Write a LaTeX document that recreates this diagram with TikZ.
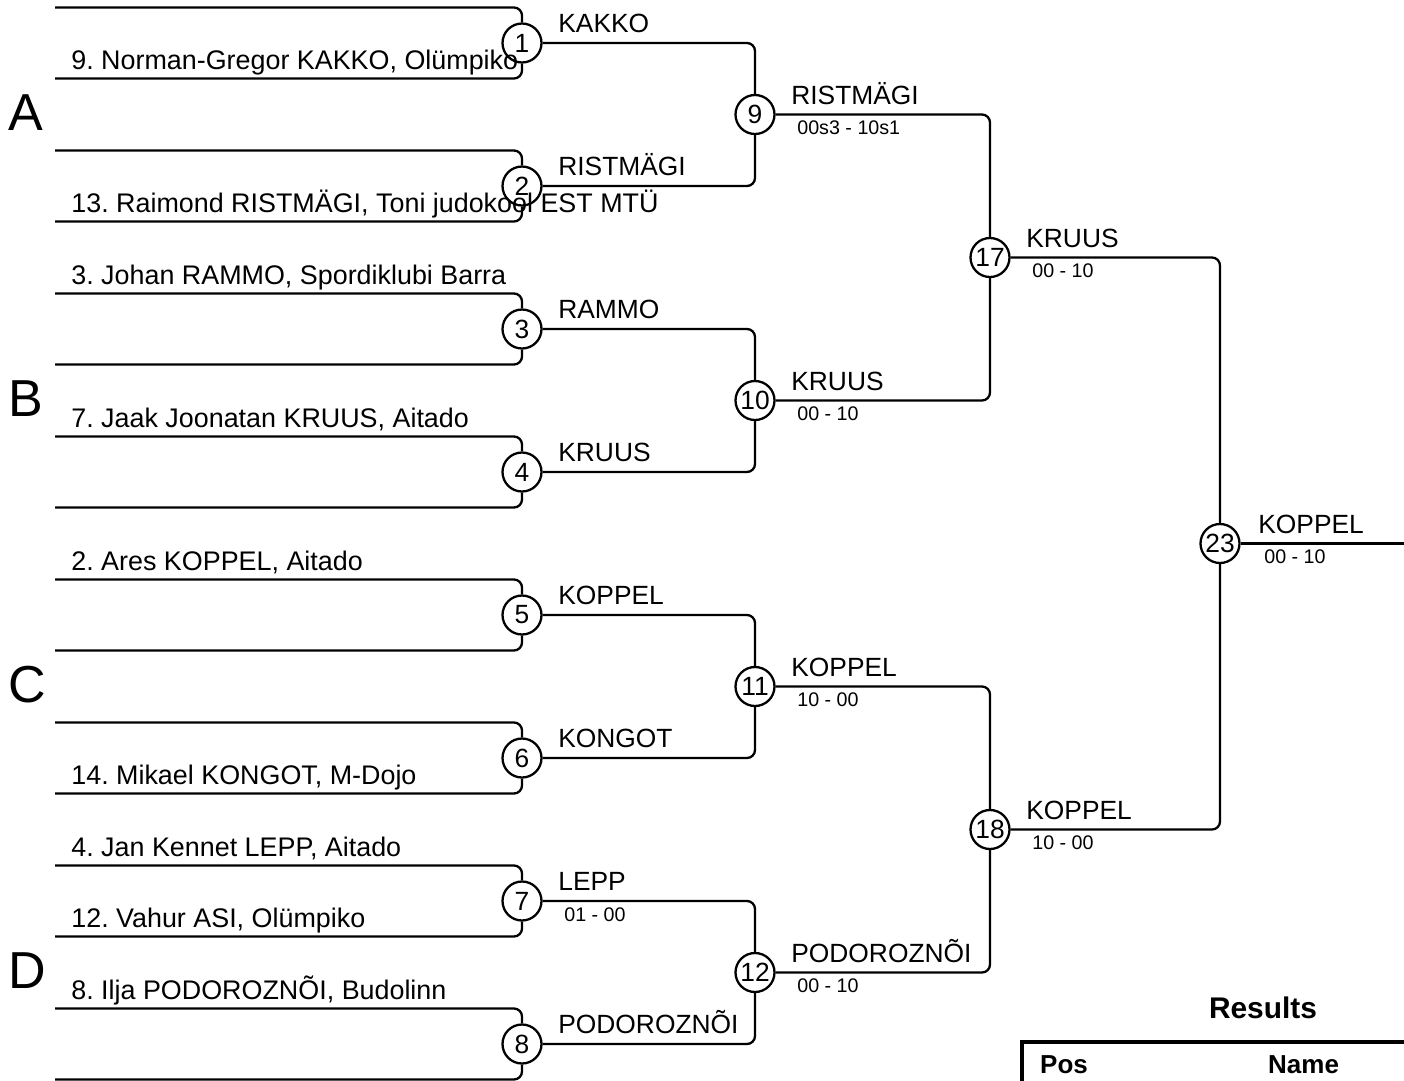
\documentclass[tikz,border=0pt]{standalone}
\usepackage{fontspec}
\setmainfont{Liberation Sans}
\frenchspacing

\tikzset{
  bout/.style={circle, draw, line width=1.3pt, minimum size=0.78cm, inner sep=0pt, font=\fontsize{15}{16}\selectfont},
  judoka/.style={anchor=base west, inner sep=0pt, font=\fontsize{15.3}{16}\selectfont},
  winner/.style={anchor=base west, inner sep=0pt, font=\fontsize{15}{16}\selectfont},
  score/.style={anchor=base west, inner sep=0pt, font=\fontsize{11.2}{12}\selectfont},
  pool/.style={anchor=west, inner sep=0pt, font=\fontsize{29.6}{32}\selectfont},
  bracket/.style={line width=1.3pt, rounded corners=0.16cm}
}

\begin{document}
\begin{tikzpicture}[y=-1cm]
\useasboundingbox (0,0) rectangle (28.08,21.62);

% bouts
\node[bout] (m1) at (10.44,0.86) {1};
\node[bout] (m2) at (10.44,3.72) {2};
\node[bout] (m3) at (10.44,6.58) {3};
\node[bout] (m4) at (10.44,9.44) {4};
\node[bout] (m5) at (10.44,12.30) {5};
\node[bout] (m6) at (10.44,15.16) {6};
\node[bout] (m7) at (10.44,18.02) {7};
\node[bout] (m8) at (10.44,20.88) {8};
\node[bout] (m9) at (15.1,2.29) {9};
\node[bout] (m10) at (15.1,8.01) {10};
\node[bout] (m11) at (15.1,13.73) {11};
\node[bout] (m12) at (15.1,19.45) {12};
\node[bout] (m17) at (19.8,5.15) {17};
\node[bout] (m18) at (19.8,16.59) {18};
\node[bout] (m23) at (24.4,10.87) {23};

% line ends on the left
\coordinate (e1a) at (1.1,0.15);  \coordinate (e1b) at (1.1,1.57);
\coordinate (e2a) at (1.1,3.01);  \coordinate (e2b) at (1.1,4.43);
\coordinate (e3a) at (1.1,5.87);  \coordinate (e3b) at (1.1,7.29);
\coordinate (e4a) at (1.1,8.73);  \coordinate (e4b) at (1.1,10.15);
\coordinate (e5a) at (1.1,11.59); \coordinate (e5b) at (1.1,13.01);
\coordinate (e6a) at (1.1,14.45); \coordinate (e6b) at (1.1,15.87);
\coordinate (e7a) at (1.1,17.31); \coordinate (e7b) at (1.1,18.73);
\coordinate (e8a) at (1.1,20.17); \coordinate (e8b) at (1.1,21.59);
\coordinate (fin) at (28.08,10.87);

\draw[bracket] (e1a) -| (m1); \draw[bracket] (e1b) -| (m1);
\draw[bracket] (e2a) -| (m2); \draw[bracket] (e2b) -| (m2);
\draw[bracket] (e3a) -| (m3); \draw[bracket] (e3b) -| (m3);
\draw[bracket] (e4a) -| (m4); \draw[bracket] (e4b) -| (m4);
\draw[bracket] (e5a) -| (m5); \draw[bracket] (e5b) -| (m5);
\draw[bracket] (e6a) -| (m6); \draw[bracket] (e6b) -| (m6);
\draw[bracket] (e7a) -| (m7); \draw[bracket] (e7b) -| (m7);
\draw[bracket] (e8a) -| (m8); \draw[bracket] (e8b) -| (m8);

\draw[bracket] (m1) -| (m9);   \draw[bracket] (m2) -| (m9);
\draw[bracket] (m3) -| (m10);  \draw[bracket] (m4) -| (m10);
\draw[bracket] (m5) -| (m11);  \draw[bracket] (m6) -| (m11);
\draw[bracket] (m7) -| (m12);  \draw[bracket] (m8) -| (m12);
\draw[bracket] (m9) -| (m17);  \draw[bracket] (m10) -| (m17);
\draw[bracket] (m11) -| (m18); \draw[bracket] (m12) -| (m18);
\draw[bracket] (m17) -| (m23); \draw[bracket] (m18) -| (m23);
\draw[bracket] (m23) -- (fin);

% pools
\node[pool] (pa) at (0.16,2.25) {A};
\node[pool] (pb) at (0.16,7.97) {B};
\node[pool] (pc) at (0.16,13.69) {C};
\node[pool] (pd) at (0.16,19.41) {D};

% competitors
\node[judoka] (j9) at (1.42,1.38) {9. Norman-Gregor KAKKO, Olümpiko};
\node[judoka] (j13) at (1.42,4.24) {13. Raimond RISTMÄGI, Toni judokool EST MTÜ};
\node[judoka] (j3) at (1.42,5.68) {3. Johan RAMMO, Spordiklubi Barra};
\node[judoka] (j7) at (1.42,8.54) {7. Jaak Joonatan KRUUS, Aitado};
\node[judoka] (j2) at (1.42,11.40) {2. Ares KOPPEL, Aitado};
\node[judoka] (j14) at (1.42,15.68) {14. Mikael KONGOT, M-Dojo};
\node[judoka] (j4) at (1.42,17.12) {4. Jan Kennet LEPP, Aitado};
\node[judoka] (j12) at (1.42,18.54) {12. Vahur ASI, Olümpiko};
\node[judoka] (j8) at (1.42,19.98) {8. Ilja PODOROZNÕI, Budolinn};

% winners and scores
\node[winner] (w1) at (11.16,0.65) {KAKKO};
\node[winner] (w2) at (11.16,3.51) {RISTMÄGI};
\node[winner] (w3) at (11.16,6.37) {RAMMO};
\node[winner] (w4) at (11.16,9.23) {KRUUS};
\node[winner] (w5) at (11.16,12.09) {KOPPEL};
\node[winner] (w6) at (11.16,14.95) {KONGOT};
\node[winner] (w7) at (11.16,17.81) {LEPP};
\node[score] (s7) at (11.28,18.42) {01 - 00};
\node[winner] (w8) at (11.16,20.67) {PODOROZNÕI};
\node[winner] (w9) at (15.82,2.08) {RISTMÄGI};
\node[score] (s9) at (15.94,2.69) {00s3 - 10s1};
\node[winner] (w10) at (15.82,7.80) {KRUUS};
\node[score] (s10) at (15.94,8.41) {00 - 10};
\node[winner] (w11) at (15.82,13.52) {KOPPEL};
\node[score] (s11) at (15.94,14.13) {10 - 00};
\node[winner] (w12) at (15.82,19.24) {PODOROZNÕI};
\node[score] (s12) at (15.94,19.85) {00 - 10};
\node[winner] (w17) at (20.52,4.94) {KRUUS};
\node[score] (s17) at (20.64,5.55) {00 - 10};
\node[winner] (w18) at (20.52,16.38) {KOPPEL};
\node[score] (s18) at (20.64,16.99) {10 - 00};
\node[winner] (w23) at (25.16,10.66) {KOPPEL};
\node[score] (s23) at (25.28,11.27) {00 - 10};

% results table
\node[anchor=base, font=\bfseries\fontsize{17}{18}\selectfont] (res) at (25.26,20.36) {Results};
\draw[line width=2.3pt] (20.44,21.62) |- (28.08,20.84);
\node[anchor=base west, font=\bfseries\fontsize{14.8}{16}\selectfont] (pos) at (20.68,21.46) {Pos};
\node[anchor=base west, font=\bfseries\fontsize{14.8}{16}\selectfont] (nam) at (25.24,21.46) {Name};
\end{tikzpicture}
\end{document}
